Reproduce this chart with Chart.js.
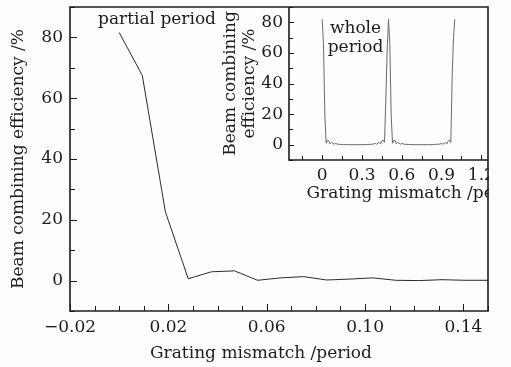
<!DOCTYPE html>
<html>
<head>
<meta charset="utf-8">
<script src="https://cdn.jsdelivr.net/npm/chart.js@4.4.1/dist/chart.umd.min.js"></script>
<style>
  html, body { margin: 0; padding: 0; background: #fdfdfd; }
  #wrap { position: relative; width: 511px; height: 367px; }
  #mainChart { position: absolute; left: 0; top: 0; }
  #insetChart { position: absolute; left: 200px; top: 0; }
</style>
</head>
<body>
<div id="wrap">
  <canvas id="mainChart" width="511" height="367"></canvas>
  <canvas id="insetChart" width="289" height="205"></canvas>
</div>
<script>
// partial period (main plot)
const partialMismatch = [0, 0.0094, 0.0188, 0.0281, 0.0375, 0.0469, 0.0563, 0.0656, 0.075,
    0.0844, 0.0938, 0.1031, 0.1125, 0.1219, 0.1313, 0.1406, 0.15];
const partialEfficiency = [81.6, 67.5, 22.6, 0.6, 2.9, 3.2, 0.1, 0.9, 1.3,
    0.2, 0.5, 0.9, 0.1, 0, 0.3, 0.1, 0.1];

// whole period (inset)
const wholeMismatch = [0, 0.01, 0.02, 0.03, 0.04, 0.05, 0.06, 0.07, 0.08, 0.09, 0.1, 0.12, 0.14,
    0.16, 0.2, 0.25, 0.3, 0.34, 0.36, 0.38, 0.4, 0.41, 0.42, 0.43, 0.44, 0.45, 0.46, 0.47,
    0.48, 0.49, 0.5, 0.51, 0.52, 0.53, 0.54, 0.55, 0.56, 0.57, 0.58, 0.59, 0.6, 0.62, 0.64,
    0.66, 0.7, 0.75, 0.8, 0.84, 0.86, 0.88, 0.9, 0.91, 0.92, 0.93, 0.94, 0.95, 0.96, 0.97,
    0.98, 0.99, 1.0];
const wholeEfficiency = [82, 66, 20, 1, 3, 2.5, 0.5, 1.5, 1, 0.3, 0.8, 0.3, 0.2,
    0.1, 0, 0, 0, 0.1, 0.3, 0.3, 0.8, 0.3, 1, 1.5, 0.5, 2.5, 3, 1.5,
    30, 62, 82, 66, 20, 1, 3, 2.5, 0.5, 1.5, 1, 0.3, 0.8, 0.3, 0.2,
    0.1, 0, 0, 0, 0.1, 0.3, 0.3, 0.8, 0.3, 1, 1.5, 0.5, 2.5, 3, 1.5,
    45, 70, 82];

const mainXLabels = [-0.02, 0.02, 0.06, 0.10, 0.14];
const effLabels = [0, 20, 40, 60, 80];
const insetXLabels = [0, 0.3, 0.6, 0.9, 1.2];

const FONT = 'DejaVu Serif';
const INK = '#1c1c1c';

function has(list, v) {
    return list.some(l => Math.abs(l - v) < 1e-6);
}

// one tick per step inside [min, max]
function stepTicks(step) {
    return scale => {
        const out = [];
        const n0 = Math.ceil(scale.min / step - 1e-6);
        const n1 = Math.floor(scale.max / step + 1e-6);
        for (let n = n0; n <= n1; n++) out.push({ value: +(n * step).toFixed(6) });
        scale.ticks = out;
    };
}

function fixSize(prop, size) {
    return scale => {
        scale[prop] = size;
        scale.paddingLeft = scale.paddingRight = scale.paddingTop = scale.paddingBottom = 0;
    };
}

function minus(s) {
    return s.startsWith('-') ? '\u2212' + s.slice(1) : s;
}

// draws inward ticks, the frame and free texts
function decorate(opts) {
    return {
        id: 'decorate',
        afterDraw(chart) {
            const { ctx, chartArea: a, scales } = chart;
            ctx.save();
            ctx.strokeStyle = INK;
            ctx.lineWidth = 1;
            ctx.beginPath();
            scales.x.ticks.forEach(t => {
                const px = Math.round(scales.x.getPixelForValue(t.value)) + 0.5;
                const len = has(opts.xMajor, t.value) ? opts.major : opts.minor;
                ctx.moveTo(px, a.bottom);
                ctx.lineTo(px, a.bottom - len);
            });
            scales.y.ticks.forEach(t => {
                const py = Math.round(scales.y.getPixelForValue(t.value)) + 0.5;
                const len = has(effLabels, t.value) ? opts.major : opts.minor;
                ctx.moveTo(a.left, py);
                ctx.lineTo(a.left + len, py);
            });
            ctx.stroke();

            ctx.lineWidth = 1.6;
            ctx.beginPath();
            if (opts.box) {
                ctx.rect(a.left, a.top, a.right - a.left, a.bottom - a.top);
            } else {
                ctx.moveTo(a.left, a.top);
                ctx.lineTo(a.left, a.bottom);
                ctx.lineTo(a.right, a.bottom);
            }
            ctx.stroke();

            ctx.fillStyle = INK;
            ctx.font = '17px "' + FONT + '"';
            ctx.textAlign = 'center';
            ctx.textBaseline = 'alphabetic';
            opts.texts.forEach(([txt, dx, y]) => {
                ctx.fillText(txt, (a.left + a.right) / 2 + dx, y);
            });
            ctx.restore();
        }
    };
}

function effScale(width, labelPad, title, titlePad) {
    return {
        type: 'linear',
        min: -10,
        max: 90,
        afterBuildTicks: stepTicks(10),
        afterFit: fixSize('width', width),
        border: { display: false },
        grid: { display: false, drawTicks: false },
        ticks: {
            padding: labelPad,
            autoSkip: false,
            color: INK,
            font: { family: FONT, size: 17 },
            callback: v => has(effLabels, v) ? String(v) : ''
        },
        title: {
            display: true,
            text: title,
            color: INK,
            padding: titlePad,
            font: { family: FONT, size: 17, lineHeight: 1.12 }
        }
    };
}

new Chart(document.getElementById('mainChart'), {
    type: 'scatter',
    data: {
        datasets: [{
            data: partialMismatch.map((x, i) => ({ x, y: partialEfficiency[i] })),
            showLine: true,
            borderColor: '#2a2a2a',
            borderWidth: 1,
            pointRadius: 0,
            tension: 0
        }]
    },
    options: {
        responsive: false,
        animation: false,
        layout: { padding: { top: 7, right: 23, left: 0, bottom: 0 } },
        plugins: { legend: { display: false }, tooltip: { enabled: false } },
        scales: {
            x: {
                type: 'linear',
                min: -0.02,
                max: 0.15,
                afterBuildTicks: stepTicks(0.01),
                afterFit: fixSize('height', 56),
                border: { display: false },
                grid: { display: false, drawTicks: false },
                ticks: {
                    padding: 6,
                    autoSkip: false,
                    maxRotation: 0,
                    color: INK,
                    font: { family: FONT, size: 17 },
                    callback: v => has(mainXLabels, v) ? minus(v.toFixed(2)) : ''
                }
            },
            y: effScale(70, 7, 'Beam combining efficiency /%', { top: 9, bottom: 0 })
        }
    },
    plugins: [decorate({
        box: true, major: 7, minor: 5, xMajor: mainXLabels,
        texts: [['Grating mismatch /period', -18, 358], ['partial period', -122, 24]]
    })]
});

new Chart(document.getElementById('insetChart'), {
    type: 'scatter',
    data: {
        datasets: [{
            data: wholeMismatch.map((x, i) => ({ x, y: wholeEfficiency[i] })),
            showLine: true,
            borderColor: '#6a6a6a',
            borderWidth: 1,
            pointRadius: 0,
            tension: 0
        }]
    },
    options: {
        responsive: false,
        animation: false,
        layout: { padding: { top: 7, right: 1, left: 0, bottom: 0 } },
        plugins: { legend: { display: false }, tooltip: { enabled: false } },
        scales: {
            x: {
                type: 'linear',
                min: -0.25,
                max: 1.25,
                afterBuildTicks: stepTicks(0.15),
                afterFit: fixSize('height', 45),
                border: { display: false },
                grid: { display: false, drawTicks: false },
                ticks: {
                    padding: 5,
                    autoSkip: false,
                    maxRotation: 0,
                    color: INK,
                    font: { family: FONT, size: 17 },
                    callback: v => has(insetXLabels, v) ? String(+v.toFixed(1)) : ''
                }
            },
            y: effScale(89, 6, ['Beam combining', 'efficiency /%'], { top: 21, bottom: 0 })
        }
    },
    plugins: [decorate({
        box: false, major: 5, minor: 4, xMajor: insetXLabels,
        texts: [['Grating mismatch /period', 29, 198], ['whole', -33, 33], ['period', -33, 52]]
    })]
});
</script>
</body>
</html>
